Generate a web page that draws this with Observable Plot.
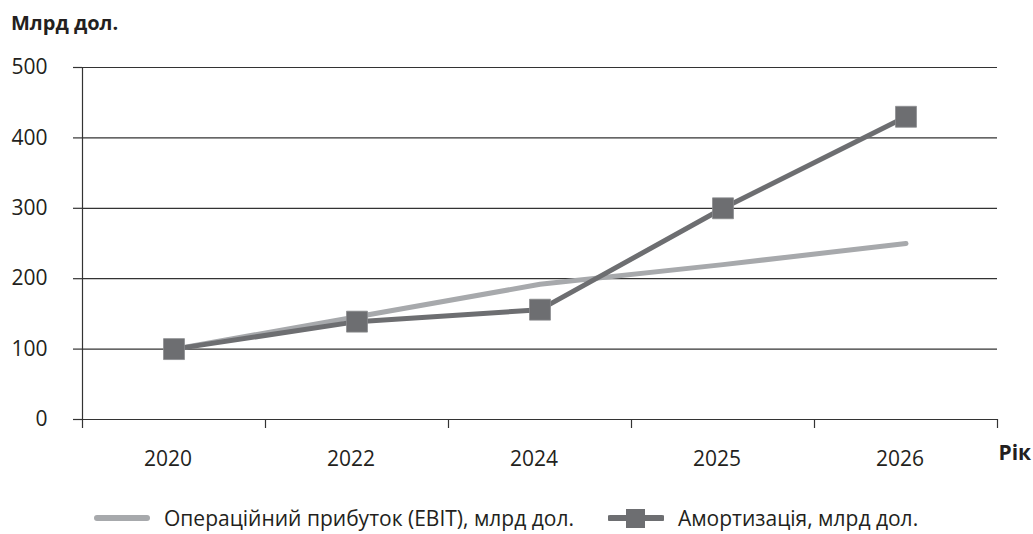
<!DOCTYPE html>
<html><head><meta charset="utf-8">
<script src="https://cdn.jsdelivr.net/npm/d3@7"></script>
<script src="https://cdn.jsdelivr.net/npm/@observablehq/plot@0.6"></script>
<style>
body{margin:0;background:#fff;font-family:"Open Sans",sans-serif;color:#231f20}
#title{height:45px;box-sizing:border-box;padding:12px 0 0 11px;font-weight:bold;font-size:20px;line-height:22px}
#legend{height:59px;box-sizing:border-box;padding-top:26px;display:flex;align-items:center;padding-left:94px;gap:34px;font-size:21px}
.item{display:flex;align-items:center;gap:14px}
.item svg{display:block}
</style></head><body>
<div id="title">Млрд дол.</div>
<div id="chart"></div>
<div id="legend"></div>
<script>
const years = ["2020","2022","2024","2025","2026"];
const ebit = [100,146,192,220,250];
const amort = [100,139,156,300,430];
const yTicks = [0,100,200,300,400,500];
const seriesNames = ["Операційний прибуток (EBIT), млрд дол.","Амортизація, млрд дол."];
const colors = ["#a7a9ac","#6d6e71"];
const xLabel = "Рік";

const idx = years.map((_, i) => i);
const edges = [-0.5, ...idx.map(i => i + 0.5)];
const ebitData = idx.map(i => ({i, v: ebit[i]}));
const amortData = idx.map(i => ({i, v: amort[i]}));
const axisColor = "#333";

const chart = Plot.plot({
  width: 1033, height: 430,
  marginLeft: 82, marginRight: 36, marginTop: 22, marginBottom: 56,
  x: {type: "linear", domain: [-0.5, years.length - 0.5]},
  y: {domain: [0, 500]},
  style: {fontFamily: "'Open Sans', sans-serif", color: "#231f20", background: "#fff"},
  marks: [
    Plot.ruleY(yTicks, {x1: -0.5, x2: years.length - 0.5, stroke: axisColor, strokeWidth: 1.2}),
    Plot.ruleX([-0.5], {y1: 0, y2: 500, stroke: axisColor, strokeWidth: 1.2}),
    Plot.axisY({ticks: yTicks, tickSize: 9, tickPadding: 26, label: null, fontSize: 21, stroke: axisColor, strokeWidth: 1.2}),
    Plot.axisX({ticks: edges, tickSize: 9, tickFormat: () => "", label: null, stroke: axisColor, strokeWidth: 1.2}),
    Plot.axisX({ticks: idx, tickSize: 0, tickPadding: 32, dx: -6, tickFormat: i => years[i], label: null, fontSize: 21}),
    Plot.line(ebitData, {x: "i", y: "v", stroke: colors[0], strokeWidth: 5}),
    Plot.line(amortData, {x: "i", y: "v", stroke: colors[1], strokeWidth: 5}),
    Plot.dot(amortData, {x: "i", y: "v", symbol: "square", r: 11.8, fill: colors[1], stroke: "#8a8b8e", strokeWidth: 0.8}),
    Plot.text([xLabel], {frameAnchor: "bottom-right", textAnchor: "start", dx: 1, dy: 40, fontWeight: "bold", fontSize: 21})
  ]
});
document.getElementById("chart").appendChild(chart);

const legend = document.getElementById("legend");
legend.innerHTML = `
<div class="item"><svg width="56" height="24"><line x1="3" x2="53" y1="12" y2="12" stroke="${colors[0]}" stroke-width="6" stroke-linecap="round"/></svg><span>${seriesNames[0]}</span></div>
<div class="item"><svg width="56" height="24"><line x1="2" x2="54" y1="12" y2="12" stroke="${colors[1]}" stroke-width="6" stroke-linecap="round"/><rect x="18" y="3" width="19" height="19" fill="${colors[1]}"/></svg><span>${seriesNames[1]}</span></div>`;
</script>
</body></html>
